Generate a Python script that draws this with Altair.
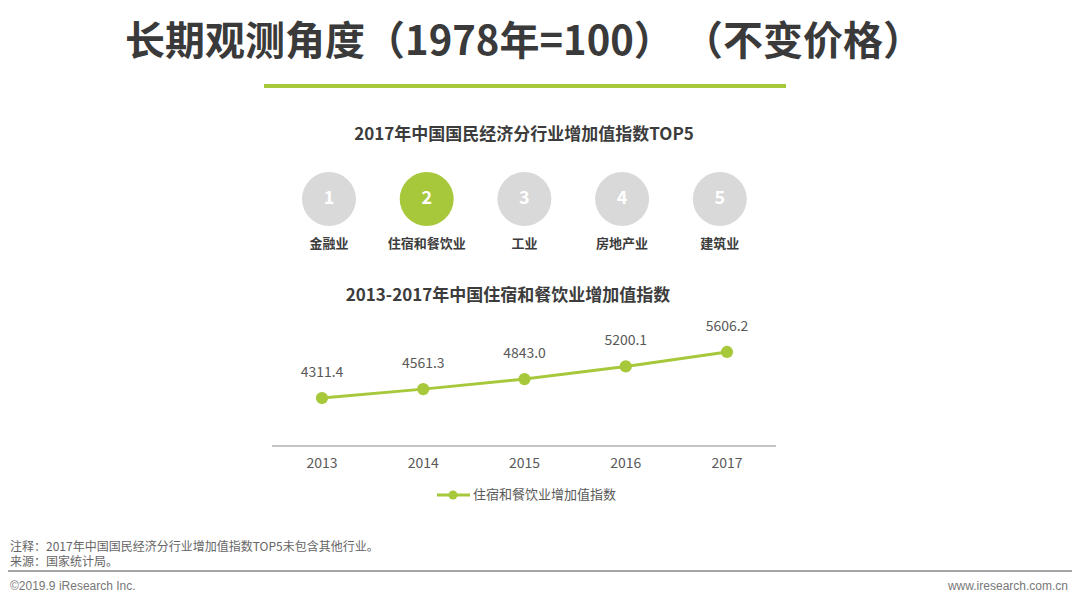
import altair as alt
import pandas as pd

# ---- data ----
years = [2013, 2014, 2015, 2016, 2017]
values = [4311.4, 4561.3, 4843.0, 5200.1, 5606.2]
ranks = ["1", "2", "3", "4", "5"]
industries = ["金融业", "住宿和餐饮业", "工业", "房地产业", "建筑业"]
highlight_rank = "2"

title_text = "长期观测角度（1978年=100） （不变价格）"
sub1_text = "2017年中国国民经济分行业增加值指数TOP5"
sub2_text = "2013-2017年中国住宿和餐饮业增加值指数"
series_name = "住宿和餐饮业增加值指数"
note_lines = ["注释：2017年中国国民经济分行业增加值指数TOP5未包含其他行业。", "来源：国家统计局。"]
footer_left = "©2019.9 iResearch Inc."
footer_right = "www.iresearch.com.cn"

# ---- styles ----
GREEN = "#a8c83c"
GRAY_C = "#d9d9d9"
DARK = "#3c3c3c"
MID = "#595959"
FONT = "Noto Sans CJK SC"
W, H = 1064, 590

# circles layout
circ_x0, circ_dx, circ_y = 321, 97.7, 191
top_df = pd.DataFrame({
    "rank": ranks,
    "industry": industries,
    "cx": [circ_x0 + circ_dx * i for i in range(len(ranks))],
})
top_df["hl"] = top_df["rank"] == highlight_rank

line_df = pd.DataFrame({"year": years, "value": values})
line_df["label"] = [f"{v:.1f}" for v in values]

xs = alt.Scale(domain=[2013, 2017], range=[314, 719])
ys = alt.Scale(domain=[3000, 6000], range=[436.6, 330])

one = pd.DataFrame({"k": [0]})

def text_at(txt, x, y, size, weight="normal", color=DARK, align="center", font=FONT):
    return alt.Chart(one).mark_text(
        text=txt, fontSize=size, fontWeight=weight, color=color, align=align,
        baseline="middle", font=font
    ).encode(x=alt.value(x), y=alt.value(y))

title = text_at(title_text, 516, 35, 40, "bold", "#3a3a3a")
title_rule = alt.Chart(one).mark_rule(color=GREEN, strokeWidth=4).encode(
    x=alt.value(256), x2=alt.value(778), y=alt.value(78))
sub1 = text_at(sub1_text, 516, 127, 17, "bold", DARK)
sub2 = text_at(sub2_text, 500, 288, 17, "bold", DARK)

circles = alt.Chart(top_df).mark_circle(size=2916, opacity=1).encode(
    x=alt.X("cx:Q", scale=None, axis=None),
    y=alt.value(circ_y),
    color=alt.condition("datum.hl", alt.value(GREEN), alt.value(GRAY_C)),
)
circ_nums = alt.Chart(top_df).mark_text(
    fontSize=18, fontWeight="bold", color="white", font=FONT, baseline="middle"
).encode(x=alt.X("cx:Q", scale=None, axis=None), y=alt.value(circ_y), text="rank:N")
circ_labels = alt.Chart(top_df).mark_text(
    fontSize=13, fontWeight="bold", color=DARK, font=FONT, baseline="middle"
).encode(x=alt.X("cx:Q", scale=None, axis=None), y=alt.value(236), text="industry:N")

baseline_rule = alt.Chart(one).mark_rule(color="#b0b0b0", strokeWidth=1.5).encode(
    x=alt.value(264), x2=alt.value(768), y=alt.value(438))

line = alt.Chart(line_df).mark_line(color=GREEN, strokeWidth=3).encode(
    x=alt.X("year:Q", scale=xs, axis=None),
    y=alt.Y("value:Q", scale=ys, axis=None),
)
pts = alt.Chart(line_df).mark_circle(color=GREEN, size=150, opacity=1).encode(
    x=alt.X("year:Q", scale=xs, axis=None),
    y=alt.Y("value:Q", scale=ys, axis=None),
)
val_labels = alt.Chart(line_df).mark_text(
    fontSize=14, color=MID, font=FONT, dy=-25, baseline="middle"
).encode(
    x=alt.X("year:Q", scale=xs, axis=None),
    y=alt.Y("value:Q", scale=ys, axis=None),
    text="label:N",
)
year_labels = alt.Chart(line_df).mark_text(
    fontSize=14, color=MID, font=FONT, baseline="middle"
).encode(
    x=alt.X("year:Q", scale=xs, axis=None),
    y=alt.value(456),
    text=alt.Text("year:Q", format="d"),
)

leg_line = alt.Chart(one).mark_rule(color=GREEN, strokeWidth=3).encode(
    x=alt.value(429), x2=alt.value(462), y=alt.value(487))
leg_pt = alt.Chart(one).mark_circle(color=GREEN, size=80, opacity=1).encode(
    x=alt.value(445), y=alt.value(487))
leg_txt = text_at(series_name, 465, 487, 13, "normal", MID, "left")

note1 = text_at(note_lines[0], 2, 539, 12, "normal", "#666666", "left")
note2 = text_at(note_lines[1], 2, 554, 12, "normal", "#666666", "left")
foot_rule = alt.Chart(one).mark_rule(color="#888888", strokeWidth=1.5).encode(
    x=alt.value(0), x2=alt.value(1064), y=alt.value(563))
foot_l = text_at(footer_left, 2, 578, 12, "normal", "#777777", "left", "Liberation Sans")
foot_r = text_at(footer_right, 1060, 578, 12, "normal", "#777777", "right", "Liberation Sans")

chart = alt.layer(
    title, title_rule, sub1, circles, circ_nums, circ_labels, sub2,
    baseline_rule, line, pts, val_labels, year_labels,
    leg_line, leg_pt, leg_txt, note1, note2, foot_rule, foot_l, foot_r,
).resolve_scale(x="independent", y="independent").properties(
    width=W, height=H, autosize=alt.AutoSizeParams(type="none"), padding=0,
    background="white",
).configure_view(stroke=None)

chart.save("out.html", embed_options={"renderer": "svg", "actions": False})
